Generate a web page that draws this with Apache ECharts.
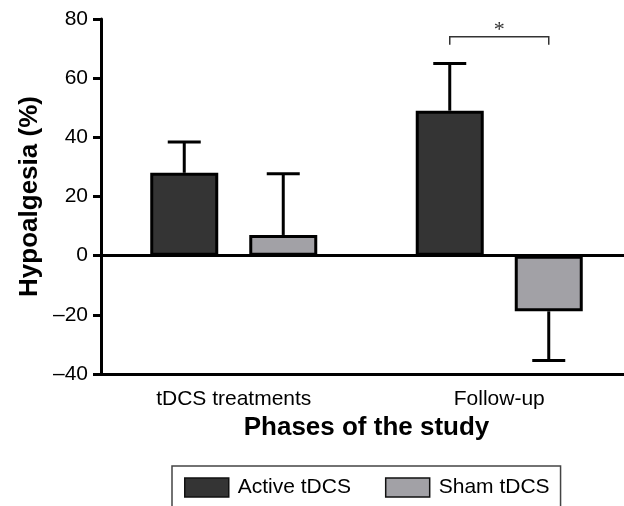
<!DOCTYPE html>
<html>
<head>
<meta charset="utf-8">
<script src="https://cdn.jsdelivr.net/npm/echarts@6/dist/echarts.min.js"></script>
<style>
html,body{margin:0;padding:0;background:#fff;}
#chart{width:624px;height:506px;}
</style>
</head>
<body>
<div id="chart"></div>
<script>
// ---- data ----
const categories = ['tDCS treatments', 'Follow-up'];
const seriesNames = ['Active tDCS', 'Sham tDCS'];
const activeMean = [28, 49];
const activeErr = [10.4, 16];
const shamMean = [7, -18.8];
const shamErr = [20.7, 16.6];
const yTicks = [-40, -20, 0, 20, 40, 60, 80];
const significance = [{ category: 1, y: 74, leg: 2.7, label: '*' }];

// ---- style ----
const FONT = 'Liberation Sans, Arial, Helvetica, sans-serif';
const BAR_W = 68;
const BAR_GAP_PX = 31;
const HALF_STEP = (BAR_W + BAR_GAP_PX) / 2;
const COLORS = ['#343434', '#a2a1a6'];

const chart = echarts.init(document.getElementById('chart'), null, { renderer: 'canvas' });

function errorSeries(means, errs, sign) {
  return {
    type: 'custom',
    z: 5,
    silent: true,
    data: means.map((m, i) => [i, m, errs[i]]),
    renderItem: function (params, api) {
      const idx = api.value(0);
      const mean = api.value(1);
      const err = api.value(2);
      const end = mean >= 0 ? mean + err : mean - err;
      const p0 = api.coord([idx, mean]);
      const p1 = api.coord([idx, end]);
      const x = p0[0] + sign * HALF_STEP;
      const capHalf = 16.5;
      return {
        type: 'group',
        children: [
          { type: 'line', shape: { x1: x, y1: p0[1], x2: x, y2: p1[1] }, style: { stroke: '#000', lineWidth: 3 } },
          { type: 'line', shape: { x1: x - capHalf, y1: p1[1], x2: x + capHalf, y2: p1[1] }, style: { stroke: '#000', lineWidth: 3 } }
        ]
      };
    }
  };
}

const option = {
  animation: false,
  backgroundColor: '#fff',
  grid: { left: 101, width: 531, top: 19, bottom: 132, containLabel: false, outerBoundsMode: 'none' },
  legend: {
    data: seriesNames,
    left: 172,
    top: 466,
    orient: 'horizontal',
    itemWidth: 44,
    itemHeight: 19,
    itemGap: 34,
    padding: [11, 11, 30, 12],
    borderColor: '#444',
    borderWidth: 1.5,
    icon: 'rect',
    itemStyle: { borderColor: '#111', borderWidth: 1.5 },
    textStyle: { fontFamily: FONT, fontSize: 21, color: '#000', padding: [0, 0, 0, 4] }
  },
  xAxis: {
    type: 'category',
    data: categories,
    name: 'Phases of the study',
    nameLocation: 'middle',
    nameGap: 41,
    nameMoveOverlap: false,
    nameTextStyle: { fontFamily: FONT, fontSize: 26, fontWeight: 'bold', color: '#000' },
    axisLine: { onZero: false, lineStyle: { color: '#000', width: 3 } },
    axisTick: { alignWithLabel: true, length: 8, lineStyle: { color: '#000', width: 3 } },
    axisLabel: { fontFamily: FONT, fontSize: 21, color: '#000', margin: 15 },
    splitLine: { show: false }
  },
  yAxis: {
    type: 'value',
    min: yTicks[0],
    max: yTicks[yTicks.length - 1],
    interval: 20,
    name: 'Hypoalgesia (%)',
    nameLocation: 'middle',
    nameGap: 58,
    nameMoveOverlap: false,
    nameTextStyle: { fontFamily: FONT, fontSize: 26, fontWeight: 'bold', color: '#000' },
    axisLine: { show: true, lineStyle: { color: '#000', width: 3 } },
    axisTick: { show: true, length: 8, lineStyle: { color: '#000', width: 3 } },
    axisLabel: {
      fontFamily: FONT, fontSize: 21, color: '#000', margin: 13,
      formatter: v => (v < 0 ? '\u2013' + Math.abs(v) : String(v))
    },
    splitLine: { show: false }
  },
  series: [
    {
      name: seriesNames[0],
      type: 'bar',
      data: activeMean,
      barWidth: BAR_W,
      barGap: (BAR_GAP_PX / BAR_W * 100).toFixed(1) + '%',
      itemStyle: { color: COLORS[0], borderColor: '#000', borderWidth: 3 },
      z: 3,
      markLine: {
        silent: true,
        symbol: 'none',
        label: { show: false },
        lineStyle: { color: '#000', width: 3, type: 'solid' },
        data: [{ yAxis: 0 }]
      }
    },
    {
      name: seriesNames[1],
      type: 'bar',
      data: shamMean,
      barWidth: BAR_W,
      itemStyle: { color: COLORS[1], borderColor: '#000', borderWidth: 3 },
      z: 3
    },
    errorSeries(activeMean, activeErr, -1),
    errorSeries(shamMean, shamErr, 1),
    {
      type: 'custom',
      z: 6,
      silent: true,
      data: significance.map(s => [s.category, s.y, s.leg]),
      renderItem: function (params, api) {
        const idx = api.value(0);
        const y = api.value(1);
        const leg = api.value(2);
        const top = api.coord([idx, y]);
        const bot = api.coord([idx, y - leg]);
        const xl = top[0] - HALF_STEP;
        const xr = top[0] + HALF_STEP;
        return {
          type: 'group',
          children: [
            { type: 'polyline', shape: { points: [[xl, bot[1]], [xl, top[1]], [xr, top[1]], [xr, bot[1]]] },
              style: { stroke: '#333', lineWidth: 1.5, fill: null } },
            { type: 'text', x: top[0], y: top[1] - 7,
              style: { text: significance[params.dataIndex].label, font: '22px Liberation Serif, Times New Roman, serif',
                       fill: '#333', align: 'center', verticalAlign: 'middle' } }
          ]
        };
      }
    }
  ]
};
chart.setOption(option);
</script>
</body>
</html>
